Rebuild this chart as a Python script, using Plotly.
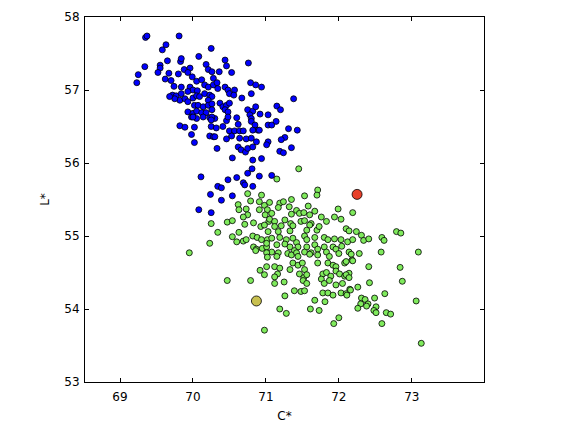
import plotly.graph_objects as go

# Blue cluster (C*, L*)
blue_c = [69.35, 69.37, 69.81, 69.63, 69.58, 70.25, 70.08, 69.65, 69.83, 69.84, 69.34, 69.55, 69.55, 69.52, 70.18,
          69.25, 69.23, 69.67, 69.80, 69.88, 69.96, 70.21, 69.93, 69.99, 69.62, 69.70, 69.74, 69.84, 70.05, 70.12,
          70.16, 70.21, 70.26, 70.28, 70.28, 69.96, 70.00, 70.06, 69.93, 69.72, 69.77, 69.84, 69.82, 69.89, 69.93,
          69.75, 69.68, 70.00, 70.05, 70.09, 70.16, 70.23, 70.26, 70.21, 70.02, 70.07, 70.14, 70.21, 70.26, 69.93,
          70.00, 70.05, 70.12, 70.18, 70.26, 69.98, 70.05, 70.14, 70.23, 70.44, 70.46, 70.76, 70.53, 70.36, 70.33,
          70.44, 70.34, 70.79, 70.86, 70.94, 70.48, 70.50, 70.57, 70.56, 70.67, 70.80, 71.38, 71.15, 71.20, 70.37,
          70.41, 70.46, 70.50, 70.44, 70.48, 70.75, 70.82, 70.86, 70.78, 70.80, 70.92, 71.03, 70.60, 70.30, 69.82,
          69.89, 70.02, 69.98, 70.02, 70.23, 70.28, 70.00, 70.26, 70.11, 70.24, 70.08, 70.25, 70.25, 70.25, 70.32,
          70.41, 70.46, 70.48, 70.62, 70.80, 70.85, 70.89, 71.03, 71.08, 71.14, 70.50, 70.57, 70.64, 70.69, 70.82,
          70.91, 71.31, 71.43, 70.30, 70.46, 70.53, 70.64, 70.73, 70.80, 70.87, 71.03, 71.01, 71.26, 71.21, 71.35,
          71.19, 71.24, 70.33, 70.62, 70.66, 70.72, 70.75, 70.82, 70.54, 70.82, 70.94, 70.81, 70.75, 70.60, 70.91,
          71.08, 70.48, 70.69, 70.71, 70.82, 70.34, 70.39, 70.54, 70.39]
blue_l = [57.72, 57.74, 57.74, 57.62, 57.55, 57.57, 57.46, 57.40, 57.39, 57.43, 57.32, 57.34, 57.30, 57.24, 57.35,
          57.21, 57.10, 57.23, 57.22, 57.28, 57.30, 57.28, 57.24, 57.18, 57.15, 57.13, 57.05, 57.04, 57.12, 57.14,
          57.07, 57.04, 57.25, 57.16, 57.07, 57.04, 57.00, 56.99, 56.98, 56.93, 56.92, 56.95, 56.86, 56.88, 56.84,
          56.88, 56.91, 56.89, 56.92, 56.91, 56.95, 56.93, 56.91, 56.86, 56.79, 56.79, 56.77, 56.79, 56.81, 56.70,
          56.68, 56.71, 56.69, 56.69, 56.73, 56.63, 56.61, 56.63, 56.62, 57.41, 57.33, 57.37, 57.24, 57.25, 57.10,
          57.04, 57.02, 57.10, 57.07, 57.04, 57.00, 56.95, 57.00, 56.93, 56.89, 56.95, 56.88, 56.78, 56.73, 56.82,
          56.77, 56.79, 56.82, 56.73, 56.70, 56.73, 56.71, 56.77, 56.66, 56.61, 56.67, 56.66, 56.62, 56.61, 56.51,
          56.49, 56.49, 56.39, 56.28, 56.37, 56.36, 56.63, 56.63, 55.81, 55.57, 55.36, 55.32, 56.59, 56.50, 56.48,
          56.50, 56.58, 56.63, 56.53, 56.57, 56.52, 56.45, 56.52, 56.52, 56.57, 56.44, 56.44, 56.44, 56.44, 56.45,
          56.45, 56.47, 56.45, 56.36, 56.33, 56.37, 56.34, 56.33, 56.34, 56.29, 56.29, 56.25, 56.35, 56.32, 56.21,
          56.16, 56.14, 56.20, 56.22, 56.18, 56.15, 56.20, 56.22, 56.07, 56.04, 56.06, 55.92, 55.86, 55.80, 55.82,
          55.83, 55.77, 55.73, 55.70, 55.68, 55.68, 55.66, 55.55, 55.49]

# Green cluster (C*, L*)
green_c = [70.75, 70.79, 70.62, 70.63, 70.73, 70.75, 70.69, 70.94, 70.91, 70.98, 71.02, 70.91, 70.99, 71.04, 70.25,
           70.47, 70.54, 70.71, 70.83, 70.93, 70.98, 70.34, 70.63, 70.54, 70.60, 70.69, 70.73, 70.82, 70.88, 70.94,
           71.02, 70.83, 70.87, 70.95, 71.01, 70.23, 69.95,
           71.45, 71.15, 71.71, 71.70, 71.53, 71.05, 71.19, 71.24, 71.17, 71.35, 71.32, 71.58, 71.99, 72.19, 71.08,
           71.35, 71.42, 71.46, 71.52, 71.60, 71.67, 71.76, 71.83, 71.94, 72.03, 71.05, 71.12, 71.26, 71.34, 71.48,
           71.53, 71.62, 71.12, 71.21, 71.37, 71.60, 71.03, 71.17, 71.33, 72.10, 72.14, 71.56, 71.70, 71.73, 71.08,
           71.19, 71.28, 71.37, 71.42, 71.53, 71.56, 71.67, 71.80, 71.85, 71.94, 72.03, 72.12, 72.19, 71.01, 71.15,
           71.26, 71.33, 71.44, 71.56, 71.67, 71.71, 71.80, 71.92, 71.96, 72.04, 71.08, 71.17, 71.30, 71.39, 71.53,
           71.62, 71.83, 72.00, 72.14,
           72.24, 72.31, 72.34, 72.41, 72.59, 72.62, 72.79, 72.85, 72.58, 73.09, 72.17, 72.28,
           70.86, 71.01, 71.02, 70.92, 71.01, 70.98, 70.47, 70.79, 70.98,
           71.15, 71.35, 71.42, 71.44, 71.60, 71.71, 71.87,
           71.12, 71.19, 71.37, 71.44, 71.50, 71.53, 71.71, 71.85, 71.92, 71.96, 72.08, 72.18,
           71.16, 71.12, 71.33, 71.46, 71.52, 71.56, 71.78, 71.83, 71.89, 71.96, 72.01, 72.08, 72.14,
           71.12, 71.25, 71.51, 71.56, 71.76, 71.80, 71.87, 71.96, 72.05,
           71.39, 71.48, 71.53, 71.78, 71.85, 71.92, 72.03, 72.15,
           71.26, 71.67, 71.81, 72.10, 71.19, 71.28, 71.61, 71.73, 72.00, 71.93,
           72.10, 72.19, 72.41, 72.84, 72.10, 72.14, 72.42, 72.87, 72.26, 72.16, 72.11, 72.63, 72.49, 72.31, 72.36,
           72.40, 72.30, 72.26, 72.38, 73.06, 72.51, 72.48, 72.51, 72.65, 72.71, 72.59, 73.13]
green_l = [55.58, 55.48, 55.43, 55.36, 55.37, 55.29, 55.26, 55.56, 55.47, 55.42, 55.36, 55.36, 55.29, 55.20, 55.17,
           55.19, 55.21, 55.16, 55.18, 55.13, 55.15, 55.05, 55.05, 54.99, 54.92, 54.93, 54.95, 55.00, 54.98, 54.95,
           54.95, 54.85, 54.82, 54.83, 54.85, 54.90, 54.77,
           55.92, 55.78, 55.63, 55.56, 55.55, 55.46, 55.45, 55.47, 55.39, 55.50, 55.40, 55.41, 55.37, 55.32, 55.31,
           55.30, 55.35, 55.31, 55.32, 55.29, 55.34, 55.26, 55.20, 55.26, 55.23, 55.23, 55.20, 55.22, 55.17, 55.20,
           55.21, 55.17, 55.13, 55.14, 55.14, 55.15, 55.06, 55.06, 55.07, 55.10, 55.07, 55.08, 55.08, 55.13, 54.97,
           54.98, 54.95, 54.97, 54.91, 55.00, 54.95, 54.98, 54.98, 54.95, 54.96, 54.95, 54.92, 54.95, 54.90, 54.88,
           54.89, 54.85, 54.85, 54.85, 54.88, 54.82, 54.85, 54.85, 54.82, 54.86, 54.78, 54.77, 54.76, 54.80, 54.78,
           54.77, 54.78, 54.76, 54.78,
           55.06, 55.01, 54.94, 54.96, 54.98, 54.94, 55.06, 55.04, 54.78, 54.78, 54.75, 54.76,
           54.80, 54.77, 54.71, 54.53, 54.58, 54.47, 54.39, 54.39, 53.71,
           54.72, 54.74, 54.77, 54.72, 54.75, 54.74, 54.72,
           54.58, 54.56, 54.63, 54.60, 54.63, 54.54, 54.63, 54.63, 54.60, 54.58, 54.63, 54.67,
           54.48, 54.44, 54.54, 54.48, 54.43, 54.47, 54.48, 54.50, 54.45, 54.52, 54.48, 54.45, 54.49,
           54.35, 54.37, 54.39, 54.35, 54.41, 54.35, 54.39, 54.33, 54.35,
           54.25, 54.24, 54.25, 54.22, 54.22, 54.19, 54.22, 54.27,
           54.18, 54.12, 54.10, 54.21, 54.00, 53.94, 54.00, 53.98, 53.88, 53.80,
           54.65, 54.66, 54.58, 54.57, 54.47, 54.43, 54.36, 54.38, 54.30, 54.26, 54.19, 54.21, 54.15, 54.15, 54.13,
           54.07, 54.07, 54.01, 54.04, 54.11, 54.03, 53.98, 53.95, 53.95, 53.93, 53.80, 53.53]

# Highlighted points
red_c, red_l = [72.25], [55.57]
olive_c, olive_l = [70.87], [54.11]

x_ticks = [69, 70, 71, 72, 73]
y_ticks = [53, 54, 55, 56, 57, 58]

fig = go.Figure()
edge = dict(color="black", width=0.8)
fig.add_trace(go.Scatter(x=blue_c, y=blue_l, mode="markers",
                         marker=dict(size=6, color="#0000ff", line=edge)))
fig.add_trace(go.Scatter(x=green_c, y=green_l, mode="markers",
                         marker=dict(size=6, color="#7fea5c", line=edge)))
fig.add_trace(go.Scatter(x=red_c, y=red_l, mode="markers",
                         marker=dict(size=10, color="#e8402a", line=edge)))
fig.add_trace(go.Scatter(x=olive_c, y=olive_l, mode="markers",
                         marker=dict(size=10, color="#c8c050", line=edge)))

axis_common = dict(showgrid=False, zeroline=False, showline=True, linecolor="black", linewidth=1,
                   mirror="ticks", ticks="inside", ticklen=4, tickcolor="black", automargin=False,
                   tickfont=dict(family="DejaVu Sans", size=12, color="black"))
fig.update_layout(
    width=563, height=423,
    margin=dict(l=85, r=79, t=17, b=41),
    paper_bgcolor="white", plot_bgcolor="white",
    showlegend=False,
    xaxis=dict(range=[68.52, 73.99], tickvals=x_ticks, ticklabelstandoff=4,
               title=dict(text="C*", standoff=12,
                          font=dict(family="DejaVu Sans", size=12, color="black")), **axis_common),
    yaxis=dict(range=[53, 58], tickvals=y_ticks, ticklabelstandoff=2,
               title=dict(text="L*", standoff=12,
                          font=dict(family="DejaVu Sans", size=12, color="black")), **axis_common),
)
fig.write_html("out.html")
